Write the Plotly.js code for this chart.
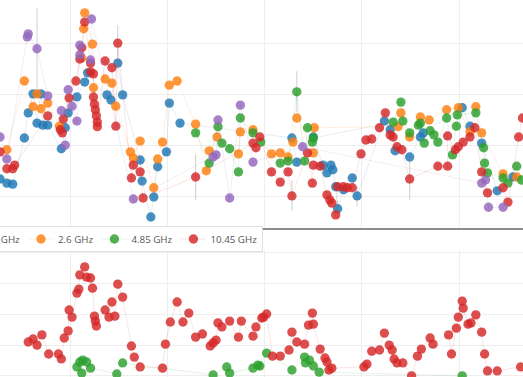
<!DOCTYPE html>
<html>
<head>
<meta charset="utf-8">
<script src="https://cdn.plot.ly/plotly-3.0.1.min.js"></script>
<style>
html,body{margin:0;padding:0;background:#fff;width:523px;height:377px;overflow:hidden;position:relative;}
#chart{position:absolute;left:-85px;top:0;width:716px;height:444px;transform:scale(0.85);transform-origin:0 0;}
</style>
</head>
<body>
<div id="chart"></div>
<script>
// ---- Top panel: flux density (Jy) vs time (years) ----
const blueName = "1.4 GHz";
const blueT = [2008.28,2008.35,2008.41,2008.53,2008.57,2008.62,2008.66,2008.70,2008.72,2008.77,2008.91,2008.95,2008.98,2009.07,2009.15,2009.18,2009.38,2009.42,2009.49,2009.54,2009.72,2009.74,2009.83,2009.86,2009.90,2009.99,2010.02,2010.13,2011.28,2011.33,2011.50,2011.60,2011.64,2011.68,2011.70,2011.73,2011.75,2011.81,2011.90,2011.95,2012.23,2012.29,2012.34,2012.49,2012.60,2012.63,2013.03,2013.11,2013.23,2013.39,2013.55];
const blueF = [1.35,1.27,1.25,2.15,2.64,3.01,2.44,3.01,2.40,2.40,1.94,2.35,2.64,2.95,3.24,3.42,2.99,2.89,3.61,2.99,1.72,1.31,0.61,1.00,1.59,1.88,2.83,2.44,2.15,1.68,2.17,1.62,1.47,1.62,1.53,1.20,0.77,1.14,1.37,1.02,2.48,2.31,1.90,1.78,2.17,2.25,2.74,2.38,2.05,1.12,1.39];
const blueE = [0.05,0.05,0.05,0.05,0.05,0.05,0.05,0.05,0.05,0.05,0.05,0.05,0.05,0.05,0.05,0.05,0.05,0.05,0.05,0.05,0.05,0.05,0.05,0.05,0.05,0.05,0.05,0.05,0.05,0.05,0.05,0.05,0.05,0.05,0.05,0.05,0.15,0.05,0.05,0.2,0.05,0.05,0.05,0.05,0.05,0.05,0.05,0.05,0.05,0.05,0.05];

const orangeName = "2.6 GHz";
const orangeT = [2008.35,2008.53,2008.62,2008.66,2008.70,2008.77,2008.89,2009.12,2009.14,2009.15,2009.23,2009.24,2009.36,2009.43,2009.47,2009.62,2009.65,2009.72,2009.86,2009.90,2009.95,2010.02,2010.10,2010.29,2010.40,2010.43,2010.51,2010.73,2010.75,2010.88,2011.07,2011.16,2011.24,2011.29,2011.33,2011.50,2011.51,2012.37,2012.40,2012.49,2012.60,2012.69,2012.87,2012.99,2013.11,2013.17,2013.23,2013.45,2013.59];
const orangeF = [1.92,3.26,2.76,3.01,2.72,2.83,2.38,3.71,4.28,4.59,3.98,3.13,3.30,3.22,2.77,1.88,1.76,2.09,1.18,1.74,2.07,3.18,3.26,2.42,1.51,1.90,2.17,1.84,2.27,2.31,1.84,1.86,1.78,2.07,2.54,1.86,2.35,2.37,2.64,2.17,2.56,2.50,2.70,2.74,2.27,2.76,2.25,1.45,1.39];

const greenName = "4.85 GHz";
const greenT = [2010.29,2010.43,2010.52,2010.56,2010.64,2010.73,2010.75,2010.88,2010.96,2011.16,2011.24,2011.33,2011.41,2011.44,2011.49,2011.50,2012.32,2012.40,2012.42,2012.49,2012.58,2012.60,2012.64,2012.70,2012.74,2012.78,2012.87,2012.93,2012.97,2012.98,2013.17,2013.25,2013.26,2013.29,2013.45,2013.50,2013.59,2013.64];
const greenF = [2.25,1.66,2.37,2.05,1.94,1.49,2.54,2.25,2.07,1.66,1.70,3.05,1.70,2.35,2.07,2.15,2.46,2.85,2.48,2.25,2.40,2.44,2.05,2.29,2.21,2.07,2.54,1.82,2.38,2.60,2.64,1.96,1.66,1.47,1.37,1.27,1.60,1.33];
const greenE = [0.05,0.05,0.05,0.05,0.05,0.05,0.05,0.05,0.05,0.05,0.05,0.4,0.05,0.05,0.05,0.05,0.05,0.05,0.05,0.05,0.05,0.05,0.05,0.05,0.05,0.05,0.05,0.05,0.05,0.05,0.05,0.05,0.05,0.05,0.05,0.05,0.05,0.05];

const redName = "10.45 GHz";
const redT = [2008.28,2008.35,2008.41,2008.43,2008.77,2008.90,2008.92,2008.93,2008.99,2009.06,2009.10,2009.12,2009.15,2009.21,2009.21,2009.24,2009.24,2009.25,2009.26,2009.27,2009.28,2009.28,2009.36,2009.43,2009.47,2009.49,2009.63,2009.65,2009.72,2009.75,2010.29,2010.88,2010.91,2010.95,2011.07,2011.16,2011.24,2011.28,2011.44,2011.49,2011.50,2011.57,2011.64,2011.67,2011.69,2011.73,2011.75,2011.81,2011.85,2011.90,2011.99,2012.04,2012.10,2012.18,2012.24,2012.29,2012.32,2012.36,2012.41,2012.49,2012.78,2012.88,2012.88,2012.96,2012.99,2013.04,2013.11,2013.16,2013.23,2013.29,2013.45,2013.50,2013.61,2013.65];
const redF = [1.88,1.55,1.55,1.62,2.58,2.31,2.25,2.52,2.93,3.26,3.69,3.91,4.41,3.61,3.44,3.40,2.95,2.81,2.70,2.58,2.46,2.37,3.65,3.52,2.38,4.00,1.37,1.62,1.49,0.98,1.39,2.05,1.96,2.17,1.49,1.29,1.49,1.02,1.86,1.27,1.62,1.60,1.04,0.94,0.88,0.65,1.20,1.20,1.18,1.18,1.84,2.11,2.13,2.35,2.64,2.21,2.17,1.98,1.92,1.35,1.60,1.60,2.19,1.92,1.98,2.07,2.17,2.35,1.49,1.08,1.18,0.90,2.17,2.54];
const redE = [0.05,0.05,0.05,0.05,0.05,0.05,0.05,0.05,0.05,0.05,0.05,0.05,0.05,0.05,0.05,0.05,0.05,0.05,0.05,0.05,0.05,0.05,0.05,0.05,0.05,0.35,0.05,0.05,0.05,0.05,0.45,0.05,0.05,0.05,0.05,0.05,0.05,0.3,0.05,0.05,0.05,0.05,0.05,0.05,0.05,0.05,0.05,0.05,0.05,0.05,0.05,0.05,0.05,0.05,0.05,0.05,0.05,0.05,0.05,0.4,0.05,0.05,0.05,0.05,0.05,0.05,0.05,0.05,0.05,0.05,0.05,0.05,0.05,0.05];

const purpleName = "15 GHz";
const purpleT = [2008.28,2008.35,2008.56,2008.57,2008.66,2008.77,2008.91,2008.95,2008.98,2009.02,2009.07,2009.10,2009.10,2009.21,2009.22,2009.65,2010.47,2010.50,2010.52,2010.64,2010.75,2010.88,2011.39,2013.23,2013.27,2013.30,2013.45];
const purpleF = [2.17,1.74,4.12,4.18,3.89,2.97,2.68,2.01,3.09,2.77,2.48,3.96,3.77,3.67,4.47,0.96,1.78,1.82,2.50,0.98,2.79,1.68,1.98,1.27,1.33,0.80,0.80];
const purpleE = [0.05,0.05,0.05,0.05,0.8,0.05,0.05,0.05,0.05,0.05,0.05,0.05,0.05,0.05,0.05,0.05,0.05,0.05,0.05,0.05,0.05,0.05,0.05,0.05,0.05,0.05,0.05];

// ---- Bottom panel ----
const lowRedT = [2008.57,2008.62,2008.66,2008.71,2008.78,2008.88,2008.91,2008.94,2008.98,2008.99,2009.02,2009.07,2009.09,2009.10,2009.15,2009.17,2009.21,2009.23,2009.25,2009.26,2009.27,2009.36,2009.40,2009.43,2009.46,2009.49,2009.54,2009.63,2009.66,2009.72,2009.95,2009.98,2010.03,2010.10,2010.16,2010.22,2010.29,2010.36,2010.44,2010.47,2010.50,2010.52,2010.56,2010.64,2010.73,2010.76,2010.88,2010.91,2010.97,2010.99,2011.02,2011.08,2011.16,2011.25,2011.28,2011.33,2011.41,2011.45,2011.49,2011.50,2011.57,2011.62,2011.64,2011.66,2011.69,2012.02,2012.05,2012.10,2012.18,2012.23,2012.28,2012.31,2012.33,2012.36,2012.42,2012.51,2012.57,2012.61,2012.70,2012.73,2012.89,2012.92,2012.97,2012.99,2013.03,2013.04,2013.09,2013.12,2013.17,2013.23,2013.26,2013.29,2013.39,2013.63];
const lowRedV = [1.10,1.20,1.00,1.33,0.71,0.71,0.55,1.23,1.46,2.14,1.91,2.69,2.82,3.28,3.54,3.21,3.18,2.85,1.94,1.78,1.62,2.14,1.91,2.40,1.94,2.98,2.56,0.97,0.61,0.29,0.25,1.03,1.75,2.40,1.75,2.04,1.26,1.36,0.97,1.07,1.16,1.72,1.59,1.78,1.26,1.78,1.29,1.59,1.88,1.91,2.01,0.64,0.64,0.84,1.42,1.10,1.03,1.65,2.04,1.68,0.87,0.58,0.45,0.19,0.25,0.29,0.38,0.80,0.84,1.39,1.00,0.84,0.55,0.42,0.42,0.00,0.64,0.87,1.23,1.03,1.33,0.71,1.55,1.91,2.43,2.20,1.68,1.72,1.98,1.42,0.71,0.16,0.16,0.29];
const lowGreenT = [2009.07,2009.10,2009.12,2009.13,2009.17,2009.21,2009.48,2009.54,2010.47,2010.61,2010.64,2010.88,2010.93,2010.95,2011.02,2011.28,2011.41,2011.42,2011.46,2011.50,2011.56,2013.03];
const lowGreenV = [0.29,0.45,0.09,0.51,0.45,0.25,0.06,0.42,0.03,0.29,0.09,0.25,0.35,0.32,0.74,0.19,0.61,0.42,0.51,0.32,0.12,0.00];

const colors = {
  blue: [31,119,180], orange: [255,127,14], green: [44,160,44], red: [214,39,40], purple: [148,103,189]
};
function rgba(c, a) { return 'rgba(' + c[0] + ',' + c[1] + ',' + c[2] + ',' + a + ')'; }

function sortPairs(t, v, e) {
  const idx = t.map((_, i) => i).sort((a, b) => t[a] - t[b]);
  return { t: idx.map(i => t[i]), v: idx.map(i => v[i]), e: e ? idx.map(i => e[i]) : null };
}

function mk(t, v, e, col, name, xa, ya, showleg) {
  const s = sortPairs(t, v, e);
  const tr = {
    type: 'scatter', mode: 'lines+markers', x: s.t, y: s.v, name: name,
    xaxis: xa, yaxis: ya, showlegend: showleg,
    line: { color: rgba(col, 0.15), width: 1 },
    marker: { color: rgba(col, 0.82), size: 11, line: { width: 0 } }
  };
  if (s.e) {
    tr.error_y = { type: 'data', array: s.e, visible: true, color: 'rgba(120,120,120,0.35)', thickness: 1.2, width: 0 };
  }
  return tr;
}

const data = [
  mk(blueT, blueF, blueE, colors.blue, blueName, 'x2', 'y2', true),
  mk(orangeT, orangeF, null, colors.orange, orangeName, 'x2', 'y2', true),
  mk(greenT, greenF, greenE, colors.green, greenName, 'x2', 'y2', true),
  mk(redT, redF, redE, colors.red, redName, 'x2', 'y2', true),
  mk(purpleT, purpleF, purpleE, colors.purple, purpleName, 'x2', 'y2', false),
  mk(lowGreenT, lowGreenV, null, colors.green, greenName, 'x', 'y', false),
  mk(lowRedT, lowRedV, null, colors.red, redName, 'x', 'y', false)
];

const xr = [2007.406, 2013.661];
const layout = {
  width: 716, height: 444,
  margin: { l: 0, r: 0, t: 0, b: 0, autoexpand: false },
  paper_bgcolor: '#fff', plot_bgcolor: '#fff',
  showlegend: true,
  legend: {
    orientation: 'h', x: 0.057, xanchor: 'left', y: 0.3667, yanchor: 'middle',
    bgcolor: '#fff', bordercolor: '#dcdcdc', borderwidth: 1,
    font: { family: 'Open Sans, DejaVu Sans, sans-serif', size: 11.5, color: '#555' }
  },
  xaxis: {
    range: xr, domain: [0, 1], anchor: 'y', tick0: 2009, dtick: 1,
    showgrid: true, gridcolor: '#ebebeb', zeroline: false, showline: false,
    showticklabels: false, ticks: ''
  },
  yaxis: {
    range: [-0.05, 4.09], domain: [0, 0.3376], anchor: 'x', tick0: 0, dtick: 1,
    showgrid: true, gridcolor: '#ebebeb', zeroline: false, showline: false,
    showticklabels: false, ticks: ''
  },
  xaxis2: {
    range: xr, domain: [0, 1], anchor: 'y2', tick0: 2009, dtick: 1,
    showgrid: true, gridcolor: '#ebebeb', zeroline: false,
    showline: true, linecolor: '#8c8c8c', linewidth: 2, mirror: false,
    showticklabels: false, ticks: ''
  },
  yaxis2: {
    range: [0.396, 4.84], domain: [0.396, 1], anchor: 'x2', tick0: 0, dtick: 1,
    showgrid: true, gridcolor: '#ebebeb', zeroline: false, showline: false,
    showticklabels: false, ticks: ''
  }
};

Plotly.newPlot('chart', data, layout, { displayModeBar: false, staticPlot: true });
</script>
</body>
</html>
